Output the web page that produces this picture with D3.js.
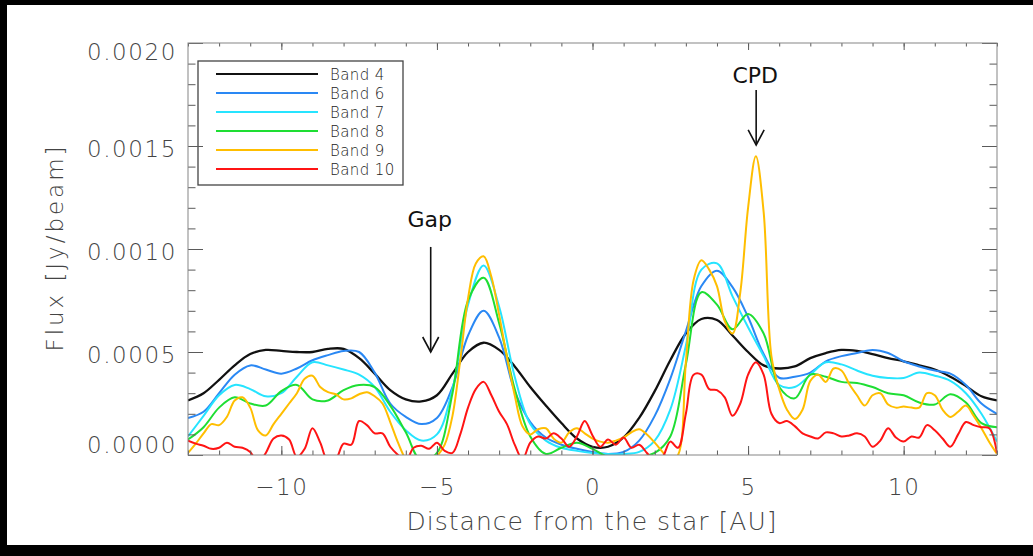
<!DOCTYPE html>
<html><head><meta charset="utf-8">
<script src="https://cdn.jsdelivr.net/npm/d3@7"></script>
<style>html,body{margin:0;padding:0;background:#000;} svg{display:block;}</style>
</head><body>
<svg id="chart" width="1033" height="556"></svg>
<script>
// ---------- DATA ----------
const bandNames  = ["Band 4", "Band 6", "Band 7", "Band 8", "Band 9", "Band 10"];
const bandColors = ["#111111", "#2a88f4", "#26e4ff", "#1ede33", "#ffbe00", "#ff1414"];
const FLUX_UNIT = 1e-4;               // series values below are in units of 1e-4 Jy/beam
const distCoarse = d3.range(-13, 13.001, 0.5);   // AU sample grid (bands 4-8)
const distFine   = d3.range(-13, 13.001, 0.25);  // AU sample grid (bands 9-10)

const band4 = [2.65,3.0,3.65,4.35,4.9,5.1, 5.05,5.0,5.0,5.15,5.15,4.7, 3.95,3.15,2.7,2.6,2.9,3.95,
  5.0,5.45,5.1,4.3,3.3,2.4, 1.55,0.8,0.4,0.4,0.85,1.8, 3.1,4.6,5.9,6.6,6.55,5.8,
  5.0,4.35,4.2,4.3,4.7,4.95, 5.1,5.05,4.9,4.7,4.55,4.35, 4.15,3.8,3.35,2.85,2.65];
const band6 = [1.8,2.1,3.0,3.9,4.35,4.15, 3.95,4.2,4.6,4.85,5.05,5.0, 4.0,2.5,1.85,1.5,1.8,3.3,
  5.8,7.0,5.7,3.1,1.6,0.85, 0.5,0.3,0.15,0.05,0.15,0.7, 1.9,3.7,6.0,8.2,8.95,8.15,
  6.7,4.9,3.75,3.8,4.0,4.55, 4.8,4.95,5.1,4.95,4.55,4.3, 4.1,3.95,3.4,2.5,2.0];
const band7 = [0.9,1.9,2.9,3.4,3.2,2.85, 3.0,3.8,4.5,4.35,4.15,3.9, 3.3,2.1,1.2,0.7,1.0,3.2,
  7.3,9.2,7.2,3.8,1.5,0.7, 0.35,0.2,0.1,0.05,0.05,0.15, 0.7,2.2,5.3,9.0,9.3,7.7,
  6.2,4.8,3.4,3.3,3.9,4.5, 4.4,4.1,3.85,3.74,3.74,4.0, 3.85,3.6,3.0,2.0,0.65];
const band8 = [0.75,1.35,2.3,2.8,2.5,2.4, 3.1,3.4,2.7,2.65,3.15,3.4, 3.3,2.4,1.1,-0.3,0.1,3.0,
  7.5,8.6,6.4,3.2,0.9,0.05, 0.35,0.6,0.3,-0.1,-0.2,-0.1, 0.1,0.9,4.4,7.9,7.3,6.1,
  6.85,5.9,3.3,2.75,3.9,3.8, 3.55,3.5,3.3,3.0,2.9,2.55, 2.45,2.95,2.55,1.55,1.35];
const band9 = [
  0.1,0.55,1.05,1.5,   1.45,1.85,2.65,2.8,  2.3,1.2,0.95,1.5,   2.0,2.5,3.0,3.7,
  3.85,3.3,3.05,2.95,  2.7,2.75,2.95,3.05,  2.85,2.5,1.6,0.6,   -0.2,-0.5,-0.5,-0.3,
  -0.05,0.5,1.9,4.6,   7.6,9.3,9.65,8.65,   6.8,4.75,2.9,1.4,   1.0,1.25,1.3,0.8,
  0.6,1.1,1.3,1.05,    0.8,0.65,0.6,0.7,    0.85,1.1,1.25,1.0,  0.6,0.15,-0.3,0.0,
  4.5,8.5,9.45,9.0,    8.2,6.5,5.9,7.9,     12.0,14.5,11.8,4.8, 3.2,2.2,1.75,2.2,
  3.6,3.9,3.55,4.2,    4.1,3.45,2.9,2.4,    2.9,3.0,2.45,2.3,   2.35,2.3,2.3,3.0,
  2.9,2.2,1.85,2.1,    2.4,1.9,1.3,0.63,    0.05];
const band10 = [
  0.7,0.55,0.45,0.3,   0.35,0.6,0.4,0.35,   0.15,-0.4,0.1,0.8,  0.95,0.75,-0.1,0.3,
  1.3,0.6,-0.3,-0.2,   0.55,0.5,1.65,1.45,  1.05,1.05,0.4,0.0,  -0.3,0.35,0.45,0.3,
  0.6,0.2,0.1,1.0,     2.3,3.2,3.55,2.9,    2.1,1.5,0.5,-0.2,   0.6,0.9,0.8,1.05,
  0.8,0.4,0.9,1.65,    0.95,0.4,0.75,0.5,   0.85,0.35,0.5,0.1,  -0.3,-0.1,0.65,0.35,
  2.0,3.9,3.9,3.2,     3.15,2.8,1.9,2.5,    3.9,4.5,3.9,2.0,    1.55,1.65,1.4,1.05,
  0.9,0.8,1.1,1.05,    0.9,0.95,1.05,0.9,   0.4,0.7,1.3,0.85,   0.65,0.9,0.85,1.45,
  1.2,0.8,0.4,1.0,     1.6,1.45,1.35,1.3,   0.1];
const bandValues = [band4, band6, band7, band8, band9, band10];
const bandGrids  = [distCoarse, distCoarse, distCoarse, distCoarse, distFine, distFine];

const xDomain = [-13, 13];
const yDomain = [0, 0.002];
const xMajorTicks = [-10, -5, 0, 5, 10];
const xMinorTicks = d3.range(-13, 13.001, 1);
const yMajorTicks = [0, 0.0005, 0.0010, 0.0015, 0.0020];
const yMinorTicks = d3.range(0, 0.00201, 0.0001);

const annLabels   = ["Gap", "CPD"];
const annX        = [-5.2, 5.26];
const annTextY    = [0.001107, 0.001806];
const annArrowTop = [0.00101, 0.001772];
const annArrowTip = [0.00050, 0.001505];

// ---------- LAYOUT ----------
const W = 1033, H = 556;
const X0 = 188, X1 = 997, Y0 = 43, Y1 = 455;
const FONT = "'DejaVu Sans', 'Liberation Sans', sans-serif";
const LIGHT = 200;

const svg = d3.select("#chart");
svg.append("rect").attr("x",0).attr("y",0).attr("width",W).attr("height",H).attr("fill","#000");
svg.append("rect").attr("x",7).attr("y",5).attr("width",W-7).attr("height",540).attr("fill","#fff");

const x = d3.scaleLinear().domain(xDomain).range([X0, X1]);
const y = d3.scaleLinear().domain(yDomain).range([Y1, Y0]);

svg.append("defs").append("clipPath").attr("id","plotclip")
  .append("rect").attr("x",X0).attr("y",Y0).attr("width",X1-X0).attr("height",Y1-Y0);

// ---------- CURVES ----------
const line = d3.line()
  .x(d => x(d[0]))
  .y(d => y(d[1] * FLUX_UNIT))
  .curve(d3.curveCatmullRom.alpha(0.5));

const curves = svg.append("g").attr("clip-path","url(#plotclip)");
bandValues.forEach((vals, i) => {
  const pts = bandGrids[i].map((d, k) => [d, vals[k]]).filter(p => p[1] !== undefined);
  curves.append("path")
    .attr("d", line(pts))
    .attr("fill","none")
    .attr("stroke", bandColors[i])
    .attr("stroke-width", i === 0 ? 2.3 : 2)
    .attr("stroke-linejoin","round");
});

// ---------- LEGEND ----------
const leg = svg.append("g");
leg.append("rect").attr("x",198).attr("y",61).attr("width",205).attr("height",124)
  .attr("fill","none").attr("stroke","#444").attr("stroke-width",1.3);
bandNames.forEach((name, i) => {
  const ly = 74 + 19 * i;
  leg.append("line").attr("x1",216).attr("x2",318).attr("y1",ly).attr("y2",ly)
    .attr("stroke", bandColors[i]).attr("stroke-width", 2);
  leg.append("text").attr("x",330).attr("y",ly+5.5).text(name)
    .attr("font-family",FONT).attr("font-weight",LIGHT).attr("font-size",15).attr("fill","#222")
    .attr("letter-spacing","0.4px");
});

// ---------- AXES ----------
const TICK = "#5a5a5a";
function styleAxis(g) {
  g.select(".domain").remove();
  g.selectAll("line").attr("stroke", TICK).attr("stroke-width", 1);
}
// bottom
svg.append("g").attr("transform",`translate(0,${Y1})`)
  .call(d3.axisBottom(x).tickValues(xMinorTicks).tickSize(-4.5).tickFormat(""))
  .call(styleAxis);
const gxb = svg.append("g").attr("transform",`translate(0,${Y1})`)
  .call(d3.axisBottom(x).tickValues(xMajorTicks).tickSize(-9).tickPadding(24).tickFormat(d3.format("d")))
  .call(styleAxis);
gxb.selectAll("text").attr("font-family",FONT).attr("font-weight",LIGHT).attr("font-size",23).attr("fill","#444")
  .attr("letter-spacing","1.5px");
// top
svg.append("g").attr("transform",`translate(0,${Y0})`)
  .call(d3.axisTop(x).tickValues(xMinorTicks).tickSize(-3.5).tickFormat(""))
  .call(styleAxis);
svg.append("g").attr("transform",`translate(0,${Y0})`)
  .call(d3.axisTop(x).tickValues(xMajorTicks).tickSize(-7).tickFormat(""))
  .call(styleAxis);
// left
svg.append("g").attr("transform",`translate(${X0},0)`)
  .call(d3.axisLeft(y).tickValues(yMinorTicks).tickSize(-7.5).tickFormat(""))
  .call(styleAxis);
const gyl = svg.append("g").attr("transform",`translate(${X0},0)`)
  .call(d3.axisLeft(y).tickValues(yMajorTicks).tickSize(-15).tickPadding(11).tickFormat(d3.format(".4f")))
  .call(styleAxis);
gyl.selectAll("text").attr("font-family",FONT).attr("font-weight",LIGHT).attr("font-size",23).attr("fill","#444")
  .attr("letter-spacing","1.6px")
  .attr("dy", d => d === 0 ? "-0.12em" : (d >= 0.002 ? "0.7em" : "0.45em"));
// right
svg.append("g").attr("transform",`translate(${X1},0)`)
  .call(d3.axisRight(y).tickValues(yMinorTicks).tickSize(-7.5).tickFormat(""))
  .call(styleAxis);
svg.append("g").attr("transform",`translate(${X1},0)`)
  .call(d3.axisRight(y).tickValues(yMajorTicks).tickSize(-15).tickFormat(""))
  .call(styleAxis);

// frame
svg.append("rect").attr("x",X0).attr("y",Y0).attr("width",X1-X0).attr("height",Y1-Y0)
  .attr("fill","none").attr("stroke","#858585").attr("stroke-width",1);

// axis titles
svg.append("text").attr("x",(X0+X1)/2 - 1).attr("y",530)
  .attr("text-anchor","middle").attr("font-family",FONT).attr("font-weight",LIGHT).attr("font-size",25)
  .attr("fill","#444").attr("textLength",370).attr("lengthAdjust","spacing")
  .text("Distance from the star [AU]");
svg.append("text").attr("transform",`translate(63,${(Y0+Y1)/2}) rotate(-90)`)
  .attr("text-anchor","middle").attr("font-family",FONT).attr("font-weight",LIGHT).attr("font-size",23)
  .attr("fill","#444").attr("textLength",205).attr("lengthAdjust","spacing")
  .text("Flux [Jy/beam]");

// ---------- ANNOTATIONS ----------
annLabels.forEach((lab, i) => {
  const ax = x(annX[i]);
  svg.append("text").attr("x", ax - 1).attr("y", y(annTextY[i]))
    .attr("text-anchor","middle").attr("font-family",FONT).attr("font-size",22)
    .attr("fill","#111").text(lab);
  const top = y(annArrowTop[i]), tip = y(annArrowTip[i]);
  svg.append("line").attr("x1",ax).attr("x2",ax).attr("y1",top).attr("y2",tip)
    .attr("stroke","#111").attr("stroke-width",1.6);
  svg.append("path").attr("d",`M${ax-8},${tip-15} L${ax},${tip} L${ax+8},${tip-15}`)
    .attr("fill","none").attr("stroke","#111").attr("stroke-width",1.6);
});
</script>
</body></html>
